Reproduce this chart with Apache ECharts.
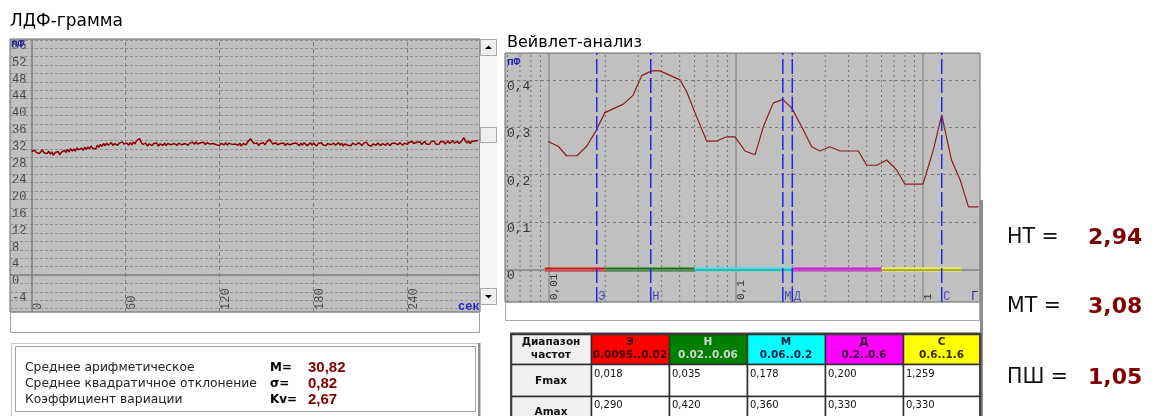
<!DOCTYPE html>
<html><head><meta charset="utf-8">
<script src="https://cdn.jsdelivr.net/npm/echarts@6/dist/echarts.min.js"></script>
<style>html,body{margin:0;padding:0;background:#fff;}#c{width:1158px;height:416px;}</style>
</head><body><div id="c"></div>
<script>
// ---------------- data ----------------
const ldfStep = 1; // seconds between samples
const ldfValues = [
29.4,29.0,29.7,29.2,29.6,28.9,29.3,29.8,29.1,29.5,
28.9,29.5,28.8,29.3,28.5,29.1,28.7,29.4,28.6,29.2,
28.9,29.7,29.2,29.9,29.3,30.1,29.5,30.0,29.5,30.3,
29.8,29.4,30.2,29.7,30.4,29.9,30.5,30.0,30.7,30.2,
30.6,30.0,30.9,30.4,31.1,30.6,31.3,30.8,31.4,30.9,
31.2,31.5,30.8,31.3,31.6,30.9,31.4,31.0,31.7,31.2,
30.8,31.4,30.9,31.5,31.0,31.7,31.2,31.9,32.3,32.5,
31.6,31.1,30.8,31.4,30.7,31.2,31.5,30.8,31.3,30.9,
31.4,30.7,31.2,31.5,30.9,31.4,30.8,31.3,31.6,31.0,
30.7,31.3,31.5,30.9,31.4,31.7,31.0,30.8,31.3,31.5,
30.9,31.4,31.0,31.6,31.1,31.7,31.2,30.9,31.5,31.1,
31.6,31.0,31.5,31.8,31.2,30.9,31.3,31.6,31.0,31.4,
30.8,31.3,31.6,31.0,31.5,30.9,31.4,31.7,31.1,30.8,
31.2,31.5,30.9,31.4,30.7,31.3,31.6,31.0,31.7,32.0,
32.4,31.8,31.3,31.0,31.4,30.8,31.3,30.9,31.5,31.0,
31.6,32.0,32.3,31.7,31.2,30.9,31.5,31.0,30.7,31.3,
30.9,31.4,30.8,31.3,31.6,31.0,30.7,31.3,30.9,31.4,
31.0,30.8,31.4,30.9,31.5,31.1,30.8,31.2,31.5,30.9,
31.4,31.0,30.7,31.3,30.9,31.5,31.0,31.4,30.8,31.3,
31.6,31.0,30.8,31.4,30.9,31.3,31.5,30.9,31.4,30.7,
31.2,31.5,30.9,31.3,30.8,31.4,31.7,31.0,30.9,31.5,
31.1,30.8,31.4,31.0,31.6,30.9,31.3,30.7,31.2,31.5,
30.9,31.4,31.0,30.8,31.3,31.5,30.9,31.4,31.0,30.8,
31.3,30.9,31.4,31.6,31.0,31.5,31.1,30.9,31.4,31.7,
31.1,31.6,31.2,31.8,31.3,31.0,31.6,31.2,31.7,31.1,
31.5,31.8,31.2,31.6,31.1,31.7,31.3,31.9,31.2,31.6,
31.1,31.7,31.3,31.8,31.2,31.6,31.9,31.3,31.7,32.0,
31.4,31.2,31.8,31.3,31.7,32.1,32.7,31.9,31.4,31.9,
31.3,31.8,31.4,31.9,31.5,32.0
];
const ldfXTicks = [0, 60, 120, 180, 240];
const ldfYTicks = [-4, 0, 4, 8, 12, 16, 20, 24, 28, 32, 36, 40, 44, 48, 52, 56];
const ldfYGrid = [-8,-6,-4,-2,0,2,4,6,8,10,12,14,16,18,20,22,24,26,28,30,32,34,36,38,40,42,44,46,48,50,52,54,56];
const ldfXGrid = [60, 120, 180, 240];

const wvFreq = [0.0099,0.0112,0.0124,0.0141,0.0159,0.0178,0.0199,0.025,0.0282,0.0313,0.0354,0.0392,0.0502,0.0545,0.0616,0.0697,0.0789,0.0892,0.0988,0.1117,0.1264,0.14,0.158,0.178,0.199,0.2245,0.254,0.281,0.318,0.36,0.451,0.5,0.566,0.64,0.723,0.80,1.0,1.135,1.259,1.42,1.58,1.75,1.98];
const wvAmp  = [0.27,0.26,0.24,0.24,0.26,0.292,0.331,0.349,0.368,0.409,0.419,0.419,0.40,0.375,0.322,0.271,0.271,0.28,0.28,0.25,0.242,0.301,0.351,0.359,0.34,0.301,0.259,0.25,0.259,0.25,0.25,0.22,0.22,0.231,0.21,0.18,0.18,0.252,0.326,0.231,0.189,0.132,0.132];
const wvYMin = -0.0686, wvYMax = 0.4568;
const wvYTicks = [0, 0.1, 0.2, 0.3, 0.4];
const wvYGrid = [0.1, 0.2, 0.3, 0.4];
const wvXMajor = [0.01, 0.1, 1];
const wvXMinor = [0.006,0.007,0.008,0.009,0.02,0.03,0.04,0.05,0.06,0.07,0.08,0.09,0.2,0.3,0.4,0.5,0.6,0.7,0.8,0.9];

const bandNames  = ['Э', 'Н', 'М', 'Д', 'С'];
const bandLow    = [0.0095, 0.02, 0.06, 0.2, 0.6];
const bandHigh   = [0.02, 0.06, 0.2, 0.6, 1.6];
const bandRange  = ['0.0095..0.02', '0.02..0.06', '0.06..0.2', '0.2..0.6', '0.6..1.6'];
const bandColors = ['#ff0000', '#008000', '#00ffff', '#ff00ff', '#ffff00'];
const bandText   = ['#3a0000', '#d4d4d4', '#001a40', '#300030', '#302800'];
const fmax = [0.018, 0.035, 0.178, 0.200, 1.259];
const amax = [0.290, 0.420, 0.360, 0.330, 0.330];

const statLabels = ['Среднее арифметическое', 'Среднее квадратичное отклонение', 'Коэффициент вариации'];
const statKeys   = ['M=', 'σ=', 'Kv='];
const statValues = ['30,82', '0,82', '2,67'];
const indexLabels = ['НТ =', 'МТ =', 'ПШ ='];
const indexValues = ['2,94', '3,08', '1,05'];

// ---------------- helpers ----------------
const comma = v => String(v).replace('.', ',');
function T(text, x, y, font, fill, align, vAlign) {
  align = align || 'left'; vAlign = vAlign || 'middle';
  return {type:'text', x:x, y:y, z:100, silent:true,
    style:{text:text, font:font, fill:fill, align:align, verticalAlign:vAlign, textAlign:align, textVerticalAlign:vAlign}};
}
function R(x, y, w, h, fill, stroke, lw) {
  return {type:'rect', z:90, silent:true, shape:{x:x, y:y, width:w, height:h},
    style:{fill:fill || 'none', stroke:stroke || 'none', lineWidth:lw || 1}};
}
function P(points, fill) {
  return {type:'polygon', z:95, silent:true, shape:{points:points}, style:{fill:fill}};
}

const gfx = [];
// titles
gfx.push(T('ЛДФ-грамма', 10, 22, '17px "DejaVu Sans"', '#000'));
gfx.push(T('Вейвлет-анализ', 507, 43, '16px "DejaVu Sans"', '#000'));
// units
gfx.push(T('пФ', 11, 44, 'bold 11px "Liberation Mono"', '#2020b0'));
gfx.push(T('сек', 458, 307, 'bold 12px "Liberation Mono"', '#2828b8'));
gfx.push(T('пФ', 507, 62, 'bold 11px "Liberation Mono"', '#2020b0'));
gfx.push(T('Г', 971, 297, '12px "Liberation Mono"', '#2a2aa0'));
// scrollbar of left chart
gfx.push(R(480, 39, 17, 266, '#f5f5f5', null));
gfx.push(R(480.5, 39.5, 16, 16, '#efefef', '#a8a8a8'));
gfx.push(P([[485,49],[492,49],[488.5,45.5]], '#000'));
gfx.push(R(480.5, 127.5, 16, 15, '#efefef', '#a8a8a8'));
gfx.push(R(480.5, 288.5, 16, 16, '#efefef', '#a8a8a8'));
gfx.push(P([[485,295],[492,295],[488.5,298.5]], '#000'));
// empty box under left chart
gfx.push(R(10.5, 312.5, 469, 20, '#fff', '#a0a0a0'));
// statistics box
gfx.push(R(11.5, 343.5, 468, 80, '#fff', '#c8c8c8'));
gfx.push(R(15.5, 346.5, 460, 65, '#fff', '#a4a4a4', 1));
gfx.push(R(478, 343, 2.5, 73, '#909090'));
const statY = [368, 384, 400];
statLabels.forEach((s, i) => {
  gfx.push(T(s, 25, statY[i], '12.3px "DejaVu Sans"', '#222'));
  gfx.push(T(statKeys[i], 270, statY[i], 'bold 12px "DejaVu Sans"', '#000'));
  gfx.push(T(statValues[i], 308, statY[i], 'bold 15px "Liberation Sans"', '#800000'));
});
// box under wavelet chart
gfx.push(R(505.5, 302.5, 474, 18, '#fff', '#a8a8a8'));
// right panel separator
gfx.push(R(980, 200, 3, 216, '#8c8c8c'));
const idxY = [238, 307, 378];
indexLabels.forEach((s, i) => {
  gfx.push(T(s, 1007, idxY[i], '20.5px "DejaVu Sans"', '#111'));
  gfx.push(T(indexValues[i], 1088, idxY[i], 'bold 22px "DejaVu Sans"', '#800000'));
});
// table
const colX = [511, 591, 669, 747, 825, 903, 980];
const rowY = [334, 364, 396, 440];
for (let r = 0; r < 3; r++) {
  for (let c = 0; c < 6; c++) {
    let fill = '#fff';
    if (c === 0) fill = '#f0f0f0';
    else if (r === 0) fill = bandColors[c - 1];
    gfx.push(R(colX[c] + 0.5, rowY[r] + 0.5, colX[c + 1] - colX[c], rowY[r + 1] - rowY[r], fill, '#2e2e2e', 1.5));
  }
}
gfx.push(R(511, 333.5, 469, 110, 'none', '#404040', 2));
const hFont = 'bold 10.5px "DejaVu Sans"';
gfx.push(T('Диапазон', 551, 342, hFont, '#111', 'center'));
gfx.push(T('частот', 551, 355, hFont, '#111', 'center'));
gfx.push(T('Fmax', 551, 381, hFont, '#111', 'center'));
gfx.push(T('Amax', 551, 412, hFont, '#111', 'center'));
bandNames.forEach((n, i) => {
  const cx = (colX[i + 1] + colX[i + 2]) / 2;
  gfx.push(T(n, cx, 342, hFont, bandText[i], 'center'));
  gfx.push(T(bandRange[i], cx, 355, hFont, bandText[i], 'center'));
  gfx.push(T(fmax[i].toFixed(3).replace('.', ','), colX[i + 1] + 3, 369, '10px "DejaVu Sans"', '#111', 'left', 'top'));
  gfx.push(T(amax[i].toFixed(3).replace('.', ','), colX[i + 1] + 3, 400, '10px "DejaVu Sans"', '#111', 'left', 'top'));
});

// ---------------- chart ----------------
const chart = echarts.init(document.getElementById('c'), null, {renderer: 'canvas'});
const monoL = {fontFamily: 'Liberation Mono', fontSize: 12, color: '#444'};
const noMark = {show: false};
const series = [];

// vertical line on the log axis, drawn as a 2-point line series
function vLine(f, style, z) {
  return {type: 'line', xAxisIndex: 1, yAxisIndex: 1, symbol: 'none', silent: true, z: z,
    data: [[f, wvYMin], [f, wvYMax]], lineStyle: style};
}

// left grid lines
series.push({type: 'line', xAxisIndex: 0, yAxisIndex: 0, data: [], z: 1, silent: true,
  markLine: {silent: true, symbol: ['none', 'none'], animation: false, label: noMark,
    data: ldfYGrid.map(v => ({yAxis: v, lineStyle: {color: '#8e8e8e', type: [3, 2], width: 1}}))
      .concat(ldfXGrid.map(v => ({xAxis: v, lineStyle: {color: '#7e7e7e', type: [4, 3], width: 1}})))
      .concat([{xAxis: 0, lineStyle: {color: '#808080', type: 'solid', width: 1.5}},
               {yAxis: 0, lineStyle: {color: '#808080', type: 'solid', width: 1.5}}])}});
series.push({type: 'line', name: 'ЛДФ', xAxisIndex: 0, yAxisIndex: 0, z: 5, showSymbol: false, symbol: 'none',
  data: ldfValues.map((v, i) => [i * ldfStep, v]),
  lineStyle: {color: '#8b0000', width: 1.5}, itemStyle: {color: '#8b0000'}});
// right grid lines (horizontal)
series.push({type: 'line', xAxisIndex: 1, yAxisIndex: 1, data: [], z: 1, silent: true,
  markLine: {silent: true, symbol: ['none', 'none'], animation: false, label: noMark,
    data: wvYGrid.map(v => ({yAxis: v, lineStyle: {color: '#7a7a7a', type: [3, 3], width: 1}}))
      .concat([{yAxis: 0, lineStyle: {color: '#858585', type: 'solid', width: 1.5}}])}});
// right grid lines (vertical, log axis)
wvXMinor.forEach(f => series.push(vLine(f, {color: '#747474', type: [2, 3], width: 1}, 1)));
wvXMajor.forEach(f => series.push(vLine(f, {color: '#858585', type: 'solid', width: 1.2}, 1)));
// frequency bands at zero
bandLow.forEach((lo, i) => {
  series.push({type: 'line', xAxisIndex: 1, yAxisIndex: 1, z: 3, symbol: 'none', silent: true,
    data: [[lo, 0], [bandHigh[i], 0]], lineStyle: {color: bandColors[i], width: 4}});
});
// wavelet curve
series.push({type: 'line', name: 'wavelet', xAxisIndex: 1, yAxisIndex: 1, z: 4, symbol: 'none',
  data: wvFreq.map((f, i) => [f, wvAmp[i]]), lineStyle: {color: '#8b1c1c', width: 1.2}});
// Fmax dashed lines
fmax.forEach(f => series.push(vLine(f, {color: '#2424ee', type: [15, 4], width: 1.5}, 6)));
// Fmax labels
series.push({type: 'scatter', xAxisIndex: 1, yAxisIndex: 1, z: 7, silent: true, symbolSize: 1,
  itemStyle: {color: 'rgba(0,0,0,0)'},
  data: fmax.map((f, i) => ({value: [f, -0.058], name: bandNames[i]})),
  label: {show: true, position: 'right', distance: 1, formatter: p => p.name,
    fontFamily: 'Liberation Mono', fontSize: 12, color: '#2e2ea8'}});

chart.setOption({
  animation: false,
  backgroundColor: '#fff',
  grid: [
    {left: 10, top: 39, width: 470, height: 273, show: true, backgroundColor: '#c0c0c0', borderColor: '#6a6a6a', borderWidth: 1, containLabel: false, outerBoundsMode: 'none'},
    {left: 505, top: 53, width: 475, height: 249, show: true, backgroundColor: '#c0c0c0', borderColor: '#6a6a6a', borderWidth: 1, containLabel: false, outerBoundsMode: 'none'}
  ],
  xAxis: [
    {type: 'value', gridIndex: 0, min: -13.72, max: 286.3,
     axisLine: {show: false}, axisTick: {show: false}, splitLine: {show: false},
     axisLabel: Object.assign({customValues: ldfXTicks, inside: true, rotate: 90, margin: 2, verticalAlign: 'top'}, monoL)},
    {type: 'log', gridIndex: 1, logBase: 10, min: 0.005817, max: 2.017,
     axisLine: {show: false}, axisTick: {show: false}, splitLine: {show: false}, minorSplitLine: {show: false},
     axisLabel: Object.assign({inside: true, rotate: 90, margin: 2, verticalAlign: 'top', showMinLabel: false, showMaxLabel: false,
       formatter: v => comma(v)}, monoL, {fontSize: 11, color: '#333'})}
  ],
  yAxis: [
    {type: 'value', gridIndex: 0, min: -8.81, max: 56.19,
     axisLine: {show: false}, axisTick: {show: false}, splitLine: {show: false},
     axisLabel: Object.assign({customValues: ldfYTicks, inside: true, margin: 2, align: 'left', verticalAlign: 'top'}, monoL)},
    {type: 'value', gridIndex: 1, min: wvYMin, max: wvYMax,
     axisLine: {show: false}, axisTick: {show: false}, splitLine: {show: false},
     axisLabel: Object.assign({customValues: wvYTicks, inside: true, margin: 2, align: 'left', verticalAlign: 'top',
       formatter: v => comma(v)}, monoL, {fontSize: 13, color: '#333'})}
  ],
  series: series,
  graphic: {elements: gfx}
});
</script></body></html>
